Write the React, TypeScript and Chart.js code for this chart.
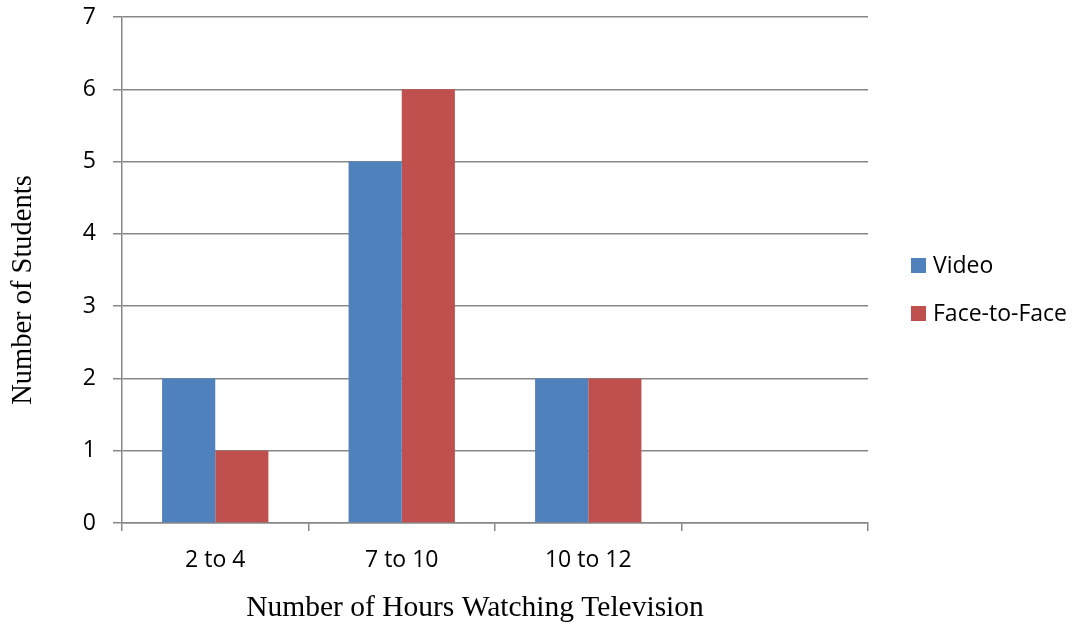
import React, { useEffect, useRef } from "react";
import { Chart, registerables } from "chart.js";

Chart.register(...registerables);

// Hour ranges on the x axis (the last slot is left empty)
const categories: string[] = ["2 to 4", "7 to 10", "10 to 12", ""];
// Number of students per range
const videoValues: (number | null)[] = [2, 5, 2, null];
const faceToFaceValues: (number | null)[] = [1, 6, 2, null];
const seriesNames: string[] = ["Video", "Face-to-Face"];
const seriesColors: string[] = ["#4F81BD", "#C0504D"];

const yTitle = "Number of Students";
const xTitle = "Number of Hours Watching Television";

const tickFont = { family: "'Open Sans', sans-serif", size: 23 };
const titleFamily = "'Liberation Serif', 'Times New Roman', serif";
const gridColor = "#878787";

// Axis titles, placed relative to the canvas
const axisTitles = {
  id: "axisTitles",
  afterDraw(chart: any) {
    const { ctx } = chart;
    ctx.save();
    ctx.fillStyle = "#000";
    ctx.textAlign = "center";
    ctx.textBaseline = "middle";
    ctx.font = `29.5px ${titleFamily}`;
    ctx.fillText(xTitle, 475, 608);
    ctx.translate(24, 290);
    ctx.rotate(-Math.PI / 2);
    ctx.font = `28.5px ${titleFamily}`;
    ctx.fillText(yTitle, 0, 0);
    ctx.restore();
  },
};

// Legend drawn to the right of the plot area
const sideLegend = {
  id: "sideLegend",
  afterDraw(chart: any) {
    const { ctx } = chart;
    const x = 911;
    const rows = [265, 313];
    ctx.save();
    ctx.font = `${tickFont.size}px ${tickFont.family}`;
    ctx.textBaseline = "middle";
    ctx.textAlign = "left";
    chart.data.datasets.forEach((ds: any, i: number) => {
      const y = rows[i];
      ctx.fillStyle = ds.backgroundColor;
      ctx.fillRect(x, y - 7, 15, 15);
      ctx.fillStyle = "#000";
      ctx.fillText(ds.label, x + 22, y + 1);
    });
    ctx.restore();
  },
};

export default function App() {
  const canvasRef = useRef<HTMLCanvasElement | null>(null);

  useEffect(() => {
    if (!canvasRef.current) return;
    const chart = new Chart(canvasRef.current, {
      type: "bar",
      data: {
        labels: categories,
        datasets: [
          { label: seriesNames[0], data: videoValues, backgroundColor: seriesColors[0] },
          { label: seriesNames[1], data: faceToFaceValues, backgroundColor: seriesColors[1] },
        ],
      },
      options: {
        animation: false,
        responsive: true,
        maintainAspectRatio: false,
        layout: { padding: { top: 17, right: 205, left: 0, bottom: 0 } },
        datasets: { bar: { categoryPercentage: 0.57, barPercentage: 1.0 } },
        plugins: {
          legend: { display: false },
          tooltip: { enabled: false },
        },
        scales: {
          x: {
            afterFit(scale: any) {
              scale.height = 101;
              scale.paddingLeft = 0;
              scale.paddingRight = 0;
            },
            grid: {
              offset: true,
              drawOnChartArea: false,
              drawTicks: true,
              tickLength: 8,
              color: gridColor,
              lineWidth: 1.5,
            },
            border: { display: true, color: gridColor, width: 1.5 },
            ticks: { color: "#000", font: tickFont, padding: 16, maxRotation: 0 },
          },
          y: {
            min: 0,
            max: 7,
            afterFit(scale: any) {
              scale.width = 122;
              scale.paddingTop = 0;
              scale.paddingBottom = 0;
            },
            grid: {
              drawTicks: true,
              tickLength: 9,
              color: gridColor,
              lineWidth: 1.5,
            },
            border: { display: true, color: gridColor, width: 1.5 },
            ticks: { stepSize: 1, color: "#000", font: tickFont, padding: 17 },
          },
        },
      },
      plugins: [sideLegend, axisTitles],
    });
    return () => chart.destroy();
  }, []);

  return (
    <div style={{ position: "fixed", left: 0, top: 0, width: 1073, height: 624, background: "#fff" }}>
      <canvas ref={canvasRef} />
    </div>
  );
}
